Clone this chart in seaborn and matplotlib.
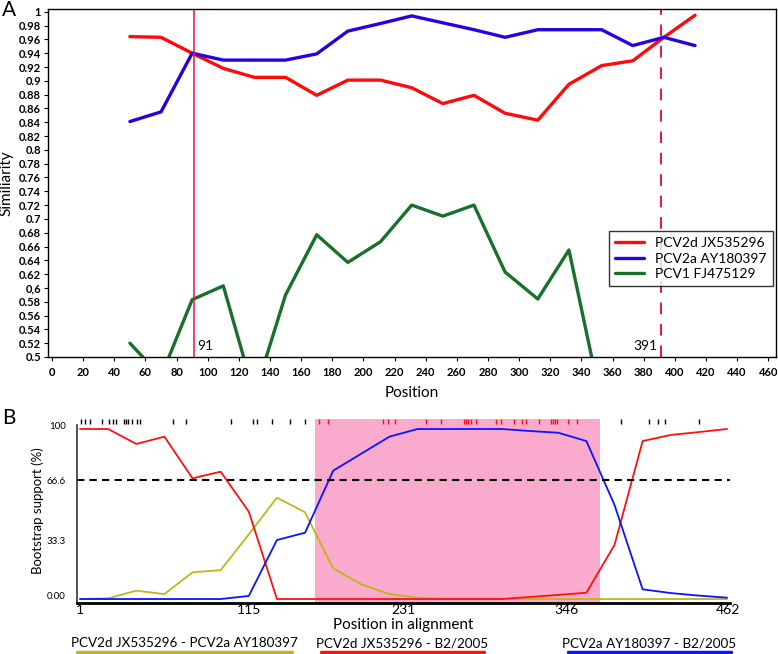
import matplotlib
matplotlib.use("Agg")
import matplotlib.pyplot as plt
import seaborn as sns
import pandas as pd
from matplotlib.lines import Line2D

# ---------------- Panel A data (SimPlot similarity) ----------------
a_pos = [50, 70, 90, 110, 130, 150, 170, 190, 211, 231, 251, 271, 291, 312, 332, 353, 373, 393, 413]
a_pcv2d = [0.964, 0.963, 0.940, 0.918, 0.905, 0.905, 0.879, 0.901, 0.901, 0.890,
           0.867, 0.879, 0.853, 0.843, 0.895, 0.922, 0.929, 0.963, 0.995]
a_pcv2a = [0.841, 0.855, 0.940, 0.930, 0.930, 0.930, 0.939, 0.972, 0.983, 0.994,
           0.984, 0.974, 0.963, 0.974, 0.974, 0.974, 0.951, 0.963, 0.951]
a_pcv1_pos = [50, 70, 90, 110, 130, 150, 170, 190, 211, 231, 251, 271, 291, 312, 332, 353]
a_pcv1 = [0.520, 0.472, 0.583, 0.603, 0.445, 0.590, 0.677, 0.637, 0.667, 0.720,
          0.704, 0.720, 0.623, 0.584, 0.655, 0.432]
a_series_names = ["PCV2d JX535296", "PCV2a AY180397", "PCV1 FJ475129"]
a_breakpoints = [91, 391]
a_yticks = [0.5, 0.52, 0.54, 0.56, 0.58, 0.6, 0.62, 0.64, 0.66, 0.68, 0.7, 0.72, 0.74,
            0.76, 0.78, 0.8, 0.82, 0.84, 0.86, 0.88, 0.9, 0.92, 0.94, 0.96, 0.98, 1.0]
a_ytick_labels = ["0.5", "0.52", "0.54", "0.56", "0.58", "0,6", "0.62", "0.64", "0.66", "0.68",
                  "0.7", "0.72", "0.74", "0.76", "0.78", "0.8", "0.82", "0.84", "0.86", "0.88",
                  "0.9", "0.92", "0.94", "0.96", "0.98", "1"]
a_xticks = [0, 20, 40, 60, 80, 100, 120, 140, 160, 180, 200, 220, 240, 260, 280, 300,
            320, 340, 360, 380, 400, 420, 440, 460]

# ---------------- Panel B data (bootscan) ----------------
b_pos = [1, 21, 41, 61, 81, 101, 121, 141, 161, 181, 201, 221, 241, 261, 281, 301,
         321, 341, 361, 381, 401, 421, 441, 461]
b_red = [100, 100, 91.2, 95.5, 71.0, 74.9, 51.4, 0, 0, 0, 0, 0, 0, 0, 0, 0,
         1.2, 2.4, 3.7, 31.8, 92.9, 96.5, 98.2, 100]
b_blue = [0, 0, 0, 0, 0, 0, 1.8, 34.7, 39.0, 75.5, 85.5, 95.5, 100, 100, 100, 100,
          98.8, 97.8, 92.9, 55.3, 5.7, 3.5, 2.0, 0.8]
b_olive = [0, 0.4, 4.9, 2.9, 15.7, 17.0, 38.0, 59.6, 51.0, 18.0, 8.6, 2.9, 0.8, 0, 0, 0,
           0, 0, 0, 0, 0, 0, 0, 0]
b_threshold = 70
b_region = [168, 370.5]
b_sites_black = [1.5, 4.3, 8.1, 16.4, 21.8, 24.2, 26.6, 32.5, 33.7, 34.9, 37.7, 41.3, 43.6,
                 66.8, 76.1, 108.7, 123.7, 126.5, 137.2, 150.6, 160.8,
                 385.7, 405.4, 411.7, 416.9, 440.8]
b_sites_red = [170.9, 177.4, 216.4, 220.0, 224.7, 246.7, 257.9, 273.9, 275.4, 276.8, 279.2,
               282.3, 296.9, 300.5, 309.2, 315.4, 318.2, 327.2, 336.0, 337.2, 338.6, 340.0,
               347.8, 354.5]
b_xtick_labels = ["1", "115", "231", "346", "462"]
b_ytick_labels = ["0.00", "33.3", "66.6", "100"]
b_legend = ["PCV2d JX535296 - PCV2a AY180397", "PCV2d JX535296 - B2/2005",
            "PCV2a AY180397 - B2/2005"]

# ---------------- styling ----------------
sns.set_theme(style="white")
plt.rcParams["font.family"] = ["Lato", "DejaVu Sans"]

RED = "#ff0a0a"
BLUE_A = "#2a00e0"
GREEN = "#17702c"
VLINE = "#e8163c"
BLUE_B = "#0a14ff"
OLIVE = "#bdb71a"
PINK = "#f9aacd"

fig = plt.figure(figsize=(7.78, 6.54), dpi=100)

# ================= Panel A =================
axA = fig.add_axes([48 / 778, 1 - 357 / 654, 728 / 778, 348 / 654])
sns.lineplot(x=a_pos, y=a_pcv2d, ax=axA, color=RED, lw=2.4, label=a_series_names[0], sort=False)
sns.lineplot(x=a_pos, y=a_pcv2a, ax=axA, color=BLUE_A, lw=2.4, label=a_series_names[1], sort=False)
sns.lineplot(x=a_pcv1_pos, y=a_pcv1, ax=axA, color=GREEN, lw=2.4, label=a_series_names[2], sort=False)
axA.axvline(a_breakpoints[0], color=VLINE, lw=1.1)
axA.axvline(a_breakpoints[1], color=VLINE, lw=1.4, ls=(0, (6, 5)))
axA.set_xlim(-2.6, 465)
axA.set_ylim(0.5, 1.004)
axA.set_yticks(a_yticks)
axA.set_yticklabels(a_ytick_labels)
axA.set_xticks(a_xticks)
axA.set_xticklabels([str(v) for v in a_xticks])
axA.tick_params(axis="both", which="major", left=True, bottom=True, length=3, width=0.8,
                direction="out", labelsize=8, pad=2, colors="black")
for lab in axA.get_xticklabels() + axA.get_yticklabels():
    lab.set_fontweight("bold")
axA.tick_params(axis="x", pad=4)
for s in axA.spines.values():
    s.set_color("black")
    s.set_linewidth(1.0)
axA.set_xlabel("Position", fontsize=11, labelpad=6, color="black")
axA.set_ylabel("Similiarity", fontsize=11, labelpad=4, color="black")
axA.text(a_breakpoints[0] + 2, 0.507, "91", fontsize=10, ha="left", va="bottom", color="black")
axA.text(a_breakpoints[1] - 2, 0.507, "391", fontsize=10, ha="right", va="bottom", color="black")
leg = axA.legend(loc="upper right", bbox_to_anchor=(0.996, 0.362), borderaxespad=0,
                 fancybox=False, frameon=True, fontsize=10, handlelength=2.1,
                 handletextpad=0.8, borderpad=0.45, labelspacing=0.25)
leg.get_frame().set_edgecolor("black")
leg.get_frame().set_linewidth(1.0)
for t in leg.get_texts():
    t.set_color("black")

fig.text(2 / 778, 1 - 10 / 654, "A", fontsize=15, ha="left", va="center", color="black")

# ================= Panel B =================
axB = fig.add_axes([76.7 / 778, 1 - 603.1 / 654, 653.3 / 778, 184.3 / 654])
axB.axvspan(b_region[0], b_region[1], color=PINK, lw=0, zorder=0)
sns.lineplot(x=b_pos, y=b_olive, ax=axB, color=OLIVE, lw=1.3, sort=False, legend=False)
sns.lineplot(x=b_pos, y=b_red, ax=axB, color="#ff1010", lw=1.3, sort=False, legend=False)
sns.lineplot(x=b_pos, y=b_blue, ax=axB, color=BLUE_B, lw=1.3, sort=False, legend=False)
axB.axhline(b_threshold, color="black", lw=1.5, ls=(0, (3.5, 2.5)))
axB.vlines(b_sites_black, 102.8, 105.6, color="black", lw=1.0)
axB.vlines(b_sites_red, 102.8, 105.6, color="#ff1020", lw=1.0)
axB.set_xlim(-1.35, 463.1)
axB.set_ylim(-2.4, 106)
axB.set_xticks([1, 121, 231, 347, 462])
axB.set_xticklabels(b_xtick_labels)
axB.set_yticks([1.8, 34.3, 70, 101.9])
axB.set_yticklabels(b_ytick_labels)
axB.tick_params(axis="x", length=0, labelsize=10, pad=1, colors="black")
axB.tick_params(axis="y", length=0, labelsize=7, pad=8, colors="black")
axB.spines["top"].set_visible(False)
axB.spines["right"].set_visible(False)
axB.spines["left"].set_bounds(-2.4, 102.4)
axB.spines["left"].set_color("#333333")
axB.spines["left"].set_linewidth(1.2)
axB.spines["bottom"].set_color("black")
axB.spines["bottom"].set_linewidth(2.0)
axB.set_xlabel("Position in alignment", fontsize=11, labelpad=0, color="black")
axB.xaxis.set_label_coords(0.5, -0.08)
axB.xaxis.label.set_va("top")
axB.set_ylabel("Bootstrap support (%)", fontsize=9.5, labelpad=2, color="black")

fig.text(2 / 778, 1 - 418 / 654, "B", fontsize=15, ha="left", va="center", color="black")

# bottom legend with coloured underlines
leg_items = [(b_legend[0], OLIVE, 77, 292), (b_legend[1], "#ff1010", 321, 484),
             (b_legend[2], BLUE_B, 568, 731)]
for txt, col, x0, x1 in leg_items:
    fig.text((x0 + x1) / 2 / 778, 1 - 643 / 654, txt, fontsize=9.7, ha="center",
             va="center", color="black")
    fig.add_artist(Line2D([x0 / 778, x1 / 778], [1 - 652 / 654, 1 - 652 / 654],
                          color=col, lw=2.5, transform=fig.transFigure))

fig.savefig("out.png", dpi=100)
